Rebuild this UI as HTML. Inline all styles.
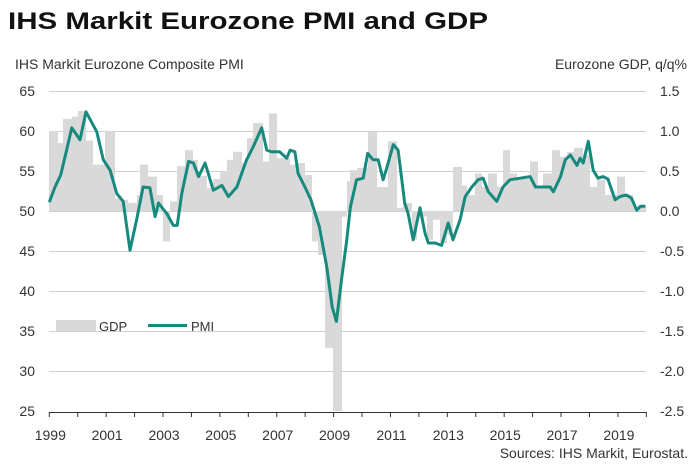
<!DOCTYPE html>
<html><head><meta charset="utf-8"><style>
body{margin:0;background:#fff;}
svg{display:block;font-family:"Liberation Sans",Arial,sans-serif;}
</style></head><body>
<svg id="s" width="700" height="470" viewBox="0 0 700 470" xmlns="http://www.w3.org/2000/svg">
<text x="8" y="29" font-size="24" font-weight="bold" fill="#111" textLength="480" lengthAdjust="spacingAndGlyphs">IHS Markit Eurozone PMI and GDP</text>
<text x="15" y="69" font-size="14" fill="#333">IHS Markit Eurozone Composite PMI</text>
<text x="687" y="69" font-size="14" fill="#333" text-anchor="end">Eurozone GDP, q/q%</text>
<g id="grid" stroke="#d0d0d0" stroke-width="1"></g>
<g id="bars" fill="#d9d9d9"></g>
<polyline id="pmi" fill="none" stroke="#178a7e" stroke-width="3" stroke-linejoin="round"/>
<line x1="49" y1="412.5" x2="646" y2="412.5" stroke="#333" stroke-width="1"/>
<g id="ticks" stroke="#333"></g>
<g id="lab" font-size="14" fill="#333"></g>
<rect x="56" y="320" width="40" height="11" fill="#d9d9d9"/>
<text x="99" y="331" font-size="13" fill="#333">GDP</text>
<line x1="148" y1="325.5" x2="187" y2="325.5" stroke="#178a7e" stroke-width="3"/>
<text x="191" y="331" font-size="13" fill="#333">PMI</text>
<text x="688" y="458" font-size="14" fill="#333" text-anchor="end">Sources: IHS Markit, Eurostat.</text>
</svg>
<script>
var NS="http://www.w3.org/2000/svg";
function el(p,t,a,txt){var e=document.createElementNS(NS,t);for(var k in a)e.setAttribute(k,a[k]);if(txt)e.textContent=txt;document.getElementById(p).appendChild(e);}
function X(y){return 49.3+(y-1999)*28.43;}
function Y(v){return 211-(v-50)*8;}
var rl=["1.5","1.0","0.5","0.0","-0.5","-1.0","-1.5","-2.0","-2.5"];
for(var i=0;i<9;i++){var v=65-5*i,y=Y(v);
 if(i<8)el("grid","line",{x1:49,y1:y+0.5,x2:646,y2:y+0.5});
 el("lab","text",{x:35,y:y+5,"text-anchor":"end"},String(v));
 el("lab","text",{x:660,y:y+5},rl[i]);}
for(var yr=1999;yr<=2020;yr++){var x=X(yr);el("ticks","line",{x1:x,y1:412,x2:x,y2:417});
 if(yr%2==1&&yr<2020)el("lab","text",{x:x+1,y:440,"text-anchor":"middle"},String(yr));}
var B=[[49,58,1.0],[58,63,0.85],[63,72,1.15],[72,78,1.18],[78,86,1.25],[86,93,0.88],[93,99,0.58],[99,105,0.58],[105,115,1.0],[115,120,0.16],[120,128,0.14],[128,137,0.1],[137,140,0.2],[140,148,0.58],[148,157,0.43],[157,163,0.2],[163,170,-0.38],[170,177,0.12],[177,185,0.56],[185,193,0.76],[193,198,0.64],[198,207,0.44],[207,213,0.29],[213,220,0.4],[220,227,0.5],[227,233,0.64],[233,242,0.74],[242,247,0.6],[247,253,0.91],[253,263,1.1],[263,269,0.62],[269,277,1.22],[277,290,0.66],[290,298,0.58],[298,305,0.6],[305,312,0.45],[312,318,-0.38],[318,325,-0.55],[325,333,-1.71],[333,342,-2.5],[342,347,-0.07],[347,350,0.37],[350,357,0.51],[357,368,0.54],[368,377,0.99],[377,383,0.3],[383,388,0.3],[388,397,0.87],[397,403,0.04],[403,412,0.1],[412,417,-0.36],[417,427,-0.07],[427,433,-0.36],[433,440,-0.11],[440,447,-0.4],[447,453,-0.3],[453,462,0.55],[462,467,0.32],[467,475,0.2],[475,482,0.47],[482,488,0.3],[488,497,0.47],[497,503,0.3],[503,510,0.76],[510,517,0.47],[517,530,0.4],[530,538,0.62],[538,543,0.3],[543,552,0.47],[552,560,0.76],[560,567,0.68],[567,574,0.74],[574,583,0.79],[583,590,0.7],[590,597,0.3],[597,605,0.39],[605,617,0.2],[617,625,0.43],[625,633,0.2],[633,640,0.05],[640,646,0.05]];
B.forEach(function(b){var y=211-b[2]*80;el("bars","rect",{x:b[0],width:b[1]-b[0],y:Math.min(y,211),height:Math.abs(211-y)});});
var P=[[1999,51.1],[1999.2,53],[1999.4,54.5],[1999.6,57.5],[1999.79,60.4],[2000.08,58.9],[2000.29,62.4],[2000.67,59.9],[2000.9,56.4],[2001.14,55.1],[2001.37,52.2],[2001.6,51.2],[2001.84,45.1],[2002.07,48.9],[2002.3,53],[2002.54,52.9],[2002.72,49.3],[2002.84,51],[2003.13,49.7],[2003.36,48.2],[2003.5,48.2],[2003.66,52.2],[2003.9,56.2],[2004.07,56],[2004.25,54.3],[2004.48,56],[2004.77,52.6],[2005.07,53.2],[2005.3,51.8],[2005.6,53],[2005.94,56.4],[2006.17,58],[2006.47,60.4],[2006.65,57.6],[2006.82,57.4],[2007.1,57.4],[2007.35,56.6],[2007.47,57.6],[2007.64,57.4],[2007.75,54.7],[2007.99,53],[2008.2,51.4],[2008.5,48],[2008.76,43],[2008.95,38],[2009.1,36.2],[2009.3,42],[2009.45,46],[2009.59,50.5],[2009.81,53.9],[2010.04,54.1],[2010.2,57.2],[2010.39,56.4],[2010.57,56.4],[2010.74,53.9],[2010.87,55.4],[2011.1,58.3],[2011.27,57.6],[2011.5,51],[2011.62,49.7],[2011.8,46.4],[2012.04,50.4],[2012.22,47.2],[2012.33,46],[2012.57,46],[2012.8,45.7],[2013.03,48.5],[2013.2,46.4],[2013.45,48.9],[2013.63,51.8],[2013.86,53],[2014.08,53.9],[2014.26,54.1],[2014.44,52.4],[2014.74,51.2],[2014.96,53],[2015.2,53.9],[2015.56,54.1],[2015.91,54.3],[2016.1,53],[2016.62,53],[2016.73,52.4],[2016.98,54.3],[2017.15,56.4],[2017.33,57],[2017.56,55.7],[2017.67,56.6],[2017.78,56],[2017.96,58.7],[2018.13,55.1],[2018.3,54.1],[2018.48,54.3],[2018.65,54],[2018.9,51.4],[2019.07,51.8],[2019.3,52],[2019.48,51.6],[2019.66,50.1],[2019.8,50.6],[2019.97,50.6]];
document.getElementById("pmi").setAttribute("points",P.map(function(p){return X(p[0]).toFixed(1)+","+Y(p[1]).toFixed(1);}).join(" "));
</script>
</body></html>
